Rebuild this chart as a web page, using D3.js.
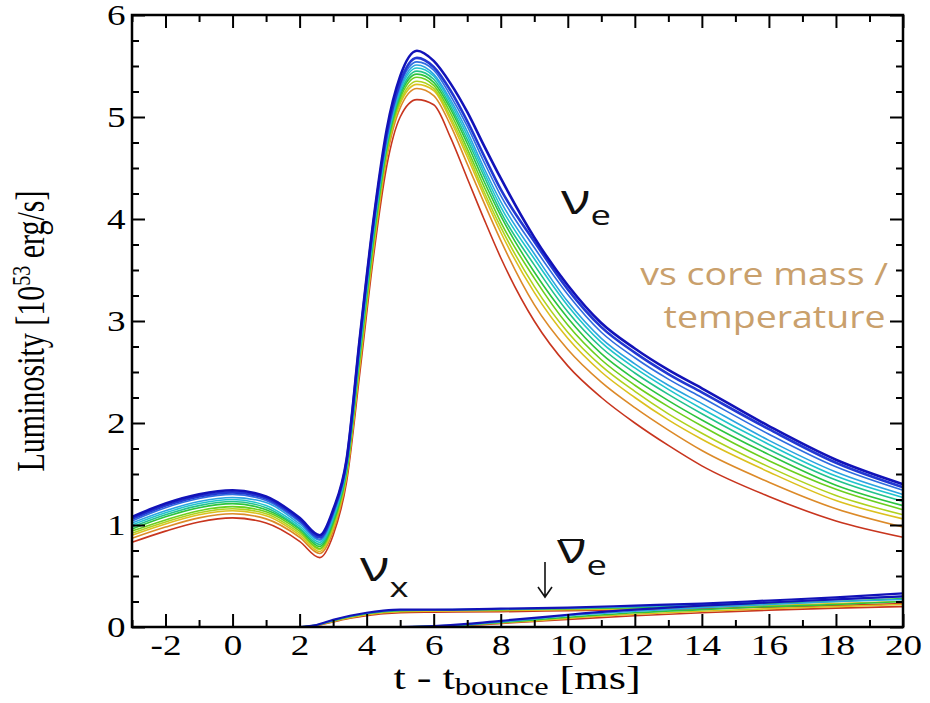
<!DOCTYPE html>
<meta charset="utf-8" />
<style>
  body { margin: 0; background: #fff; }
  svg { display: block; }
  .axis text { font-family: "Liberation Serif", "Times New Roman", serif; font-size: 29px; fill: #000; }
  .axis line { stroke: #000; stroke-width: 2; }
  .axis .domain { display: none; }
</style>
<svg width="930" height="703"></svg>
<script src="https://d3js.org/d3.v7.min.js"></script>
<script>
  var svg = d3.select("svg");
  var width = +svg.attr("width");
  var height = +svg.attr("height");
  var margin = { top: 15, right: 27, bottom: 76, left: 132 };
  var stretch = 1.28; // the original figure is drawn wider than tall

  // time grid of the nu_e curves [ms]
  var tGrid = [-3, -2, -1, 0, 1, 2, 2.6, 3.0, 3.4, 3.8, 4.2, 4.6, 5.0, 5.5, 6.0, 6.5, 7, 7.5, 8, 9, 10, 11, 12, 13, 14, 16, 18, 20];

  // nu_e luminosity, one array per model (blue = top ... red = bottom)
  var nue01 = [1.08, 1.21, 1.30, 1.34, 1.28, 1.07, 0.90, 1.15, 1.64, 2.85, 3.98, 4.88, 5.40, 5.65, 5.55, 5.33, 5.05, 4.72, 4.40, 3.82, 3.35, 2.98, 2.73, 2.52, 2.34, 1.97, 1.64, 1.40];
  var nue02 = [1.06, 1.19, 1.28, 1.32, 1.26, 1.05, 0.88, 1.13, 1.62, 2.82, 3.95, 4.83, 5.34, 5.58, 5.49, 5.26, 4.96, 4.62, 4.29, 3.78, 3.31, 2.94, 2.69, 2.48, 2.30, 1.94, 1.61, 1.37];
  var nue03 = [1.04, 1.17, 1.26, 1.30, 1.24, 1.03, 0.86, 1.11, 1.61, 2.79, 3.92, 4.80, 5.31, 5.54, 5.46, 5.21, 4.91, 4.56, 4.23, 3.72, 3.26, 2.89, 2.64, 2.43, 2.25, 1.89, 1.57, 1.34];
  var nue04 = [1.02, 1.14, 1.23, 1.27, 1.22, 1.01, 0.85, 1.09, 1.59, 2.76, 3.89, 4.77, 5.28, 5.51, 5.42, 5.17, 4.86, 4.50, 4.17, 3.66, 3.19, 2.83, 2.58, 2.37, 2.19, 1.83, 1.52, 1.30];
  var nue05 = [1.00, 1.12, 1.21, 1.25, 1.19, 0.99, 0.83, 1.07, 1.57, 2.73, 3.86, 4.75, 5.26, 5.48, 5.40, 5.14, 4.82, 4.46, 4.12, 3.61, 3.15, 2.79, 2.54, 2.33, 2.14, 1.79, 1.48, 1.27];
  var nue06 = [0.98, 1.10, 1.19, 1.23, 1.17, 0.97, 0.81, 1.05, 1.55, 2.70, 3.83, 4.73, 5.23, 5.45, 5.37, 5.11, 4.78, 4.42, 4.07, 3.55, 3.09, 2.74, 2.49, 2.28, 2.09, 1.74, 1.44, 1.23];
  var nue07 = [0.96, 1.08, 1.17, 1.21, 1.15, 0.96, 0.79, 1.03, 1.53, 2.68, 3.80, 4.71, 5.21, 5.42, 5.34, 5.08, 4.74, 4.37, 4.03, 3.48, 3.03, 2.68, 2.43, 2.22, 2.03, 1.69, 1.39, 1.19];
  var nue08 = [0.94, 1.05, 1.14, 1.18, 1.13, 0.94, 0.77, 1.01, 1.51, 2.65, 3.77, 4.68, 5.18, 5.39, 5.31, 5.04, 4.69, 4.32, 3.97, 3.42, 2.96, 2.62, 2.37, 2.16, 1.97, 1.63, 1.35, 1.15];
  var nue09 = [0.92, 1.03, 1.12, 1.16, 1.11, 0.92, 0.76, 0.99, 1.50, 2.62, 3.74, 4.66, 5.15, 5.35, 5.28, 5.00, 4.65, 4.27, 3.92, 3.34, 2.89, 2.56, 2.31, 2.09, 1.90, 1.57, 1.29, 1.10];
  var nue10 = [0.90, 1.01, 1.10, 1.14, 1.09, 0.90, 0.74, 0.97, 1.48, 2.59, 3.71, 4.64, 5.13, 5.32, 5.26, 4.97, 4.61, 4.23, 3.87, 3.28, 2.83, 2.50, 2.25, 2.03, 1.84, 1.52, 1.24, 1.06];
  var nue11 = [0.87, 0.98, 1.07, 1.11, 1.06, 0.88, 0.72, 0.94, 1.46, 2.56, 3.68, 4.60, 5.09, 5.28, 5.21, 4.92, 4.54, 4.16, 3.79, 3.16, 2.72, 2.40, 2.15, 1.93, 1.73, 1.42, 1.16, 0.98];
  var nue12 = [0.83, 0.94, 1.03, 1.07, 1.02, 0.84, 0.68, 0.90, 1.42, 2.50, 3.62, 4.52, 5.00, 5.17, 5.12, 4.80, 4.40, 4.00, 3.62, 3.00, 2.56, 2.25, 2.00, 1.78, 1.58, 1.28, 1.04, 0.88];
  var nueSeries = [nue01, nue02, nue03, nue04, nue05, nue06, nue07, nue08, nue09, nue10, nue11, nue12];

  var modelColors = ["#1212b8", "#2238d2", "#2f6ee0", "#2aa4e0", "#1fc4cc", "#22c28c", "#2cc43e", "#6ccf1e", "#b0d21e", "#dcc01e", "#dc8a28", "#c8351e"];

  // nu_x and anti nu_e, five representative models
  var tNux = [2, 2.5, 3, 3.5, 4, 4.5, 5, 6, 8, 10, 12, 14, 16, 18, 20];
  var nux1 = [0, 0.02, 0.07, 0.11, 0.14, 0.16, 0.17, 0.17, 0.18, 0.19, 0.21, 0.23, 0.26, 0.29, 0.33];
  var nux2 = [0, 0.02, 0.065, 0.105, 0.135, 0.155, 0.165, 0.168, 0.175, 0.185, 0.20, 0.22, 0.245, 0.27, 0.30];
  var nux3 = [0, 0.02, 0.06, 0.10, 0.13, 0.15, 0.16, 0.165, 0.17, 0.18, 0.19, 0.21, 0.23, 0.25, 0.28];
  var nux4 = [0, 0.015, 0.055, 0.09, 0.12, 0.14, 0.15, 0.155, 0.16, 0.17, 0.18, 0.195, 0.21, 0.23, 0.25];
  var nux5 = [0, 0.015, 0.05, 0.085, 0.11, 0.13, 0.14, 0.145, 0.15, 0.16, 0.17, 0.18, 0.195, 0.21, 0.23];
  var tAnue = [5, 6, 7, 8, 9, 10, 12, 14, 16, 18, 20];
  var anue1 = [0, 0.01, 0.03, 0.06, 0.09, 0.12, 0.17, 0.21, 0.24, 0.27, 0.30];
  var anue2 = [0, 0.01, 0.025, 0.05, 0.08, 0.11, 0.155, 0.19, 0.22, 0.25, 0.27];
  var anue3 = [0, 0.008, 0.02, 0.045, 0.07, 0.095, 0.14, 0.17, 0.20, 0.22, 0.25];
  var anue4 = [0, 0.006, 0.018, 0.04, 0.06, 0.085, 0.125, 0.155, 0.18, 0.20, 0.22];
  var anue5 = [0, 0.005, 0.015, 0.035, 0.055, 0.075, 0.11, 0.14, 0.165, 0.185, 0.20];
  var smallColors = ["#1212b8", "#2aa4e0", "#2cc43e", "#dcc01e", "#c8351e"];

  var xTicks = [-2, 0, 2, 4, 6, 8, 10, 12, 14, 16, 18, 20];
  var yTicks = [0, 1, 2, 3, 4, 5, 6];

  var x = d3.scaleLinear().domain([-3, 20]).range([margin.left, width - margin.right]);
  var y = d3.scaleLinear().domain([0, 6]).range([height - margin.bottom, margin.top]);

  var xMinor = d3.range(-3, 20.5, 1).filter(function(d) { return xTicks.indexOf(d) < 0; });
  var yMinor = d3.range(0, 6.01, 0.25).filter(function(d) { return d % 1 !== 0; });
  var plainNum = function(d) { return String(d); }; // keep the ascii hyphen for "-2"

  // curves
  var line = d3.line()
    .x(function(d) { return x(d[0]); })
    .y(function(d) { return y(d[1]); })
    .curve(d3.curveMonotoneX);

  var plot = svg.append("g");

  function drawSet(times, series, colors, widthFn) {
    for (var i = series.length - 1; i >= 0; i--) {
      plot.append("path")
        .datum(d3.zip(times, series[i]))
        .attr("d", line)
        .attr("fill", "none")
        .attr("stroke", colors[i])
        .attr("stroke-width", widthFn(i))
        .attr("stroke-linejoin", "round");
    }
  }
  drawSet(tNux, [nux1, nux2, nux3, nux4, nux5], smallColors, function(i) { return i === 0 ? 2.2 : 1.6; });
  drawSet(tAnue, [anue1, anue2, anue3, anue4, anue5], smallColors, function(i) { return i === 0 ? 2.2 : 1.6; });
  drawSet(tGrid, nueSeries, modelColors, function(i) { return i < 2 ? 2.6 : 1.6; });

  // axes, ticks inward on all four sides
  var gx = svg.append("g").attr("class", "axis")
    .attr("transform", "translate(0," + y(0) + ")")
    .call(d3.axisBottom(x).tickValues(xTicks).tickSize(-13).tickPadding(7).tickFormat(plainNum));
  gx.selectAll("text").attr("transform", "scale(" + stretch + ",1)");
  svg.append("g").attr("class", "axis")
    .attr("transform", "translate(0," + y(0) + ")")
    .call(d3.axisBottom(x).tickValues(xMinor).tickSize(-7).tickFormat(""));
  svg.append("g").attr("class", "axis")
    .attr("transform", "translate(0," + y(6) + ")")
    .call(d3.axisTop(x).tickValues(xTicks).tickSize(-13).tickFormat(""));
  svg.append("g").attr("class", "axis")
    .attr("transform", "translate(0," + y(6) + ")")
    .call(d3.axisTop(x).tickValues(xMinor).tickSize(-7).tickFormat(""));

  var gy = svg.append("g").attr("class", "axis")
    .attr("transform", "translate(" + x(-3) + ",0)")
    .call(d3.axisLeft(y).tickValues(yTicks).tickSize(-13).tickPadding(5).tickFormat(plainNum));
  gy.selectAll("text").attr("transform", "scale(" + stretch + ",1)");
  svg.append("g").attr("class", "axis")
    .attr("transform", "translate(" + x(-3) + ",0)")
    .call(d3.axisLeft(y).tickValues(yMinor).tickSize(-7).tickFormat(""));
  svg.append("g").attr("class", "axis")
    .attr("transform", "translate(" + x(20) + ",0)")
    .call(d3.axisRight(y).tickValues(yTicks).tickSize(-13).tickFormat(""));
  svg.append("g").attr("class", "axis")
    .attr("transform", "translate(" + x(20) + ",0)")
    .call(d3.axisRight(y).tickValues(yMinor).tickSize(-7).tickFormat(""));

  svg.append("rect")
    .attr("x", x(-3)).attr("y", y(6))
    .attr("width", x(20) - x(-3)).attr("height", y(0) - y(6))
    .attr("fill", "none").attr("stroke", "#000").attr("stroke-width", 2.5);

  // axis titles
  var serif = "'Liberation Serif', 'Times New Roman', serif";
  var xt = svg.append("text")
    .attr("transform", "translate(517,689) scale(1.3,1)")
    .attr("text-anchor", "middle")
    .style("font-family", serif).style("font-size", "34px");
  xt.append("tspan").text("t - t");
  xt.append("tspan").attr("dy", 6).style("font-size", "25px").text("bounce");
  xt.append("tspan").attr("dy", -6).text(" [ms]");

  var yt = svg.append("text")
    .attr("transform", "translate(44,331) scale(1.3,1) rotate(-90)")
    .attr("text-anchor", "middle")
    .style("font-family", serif).style("font-size", "30px");
  yt.append("tspan").text("Luminosity [10");
  yt.append("tspan").attr("dy", -11).style("font-size", "20px").text("53");
  yt.append("tspan").attr("dy", 11).text(" erg/s]");

  // labels
  var sans = "'Open Sans', 'Noto Sans', sans-serif";
  function greek(px, py, sub, subDy) {
    var t = svg.append("text")
      .attr("transform", "translate(" + px + "," + py + ") scale(1.3,1)")
      .style("font-family", sans).style("font-size", "42px").attr("fill", "#111");
    t.append("tspan").text("\u03bd");
    t.append("tspan").attr("dx", 0).attr("dy", subDy).style("font-size", "28px").text(sub);
  }
  greek(561, 214, "e", 11);
  greek(360, 581, "x", 16);
  greek(557, 563, "e", 12);
  svg.append("line").attr("x1", 560).attr("x2", 583).attr("y1", 540).attr("y2", 540)
    .attr("stroke", "#111").attr("stroke-width", 2);
  svg.append("path")
    .attr("d", "M545,562 L545,596 M538,587 L545,597 L552,587")
    .attr("fill", "none").attr("stroke", "#111").attr("stroke-width", 1.6);

  var note = svg.append("text")
    .attr("transform", "translate(888,0) scale(1.21,1)")
    .attr("text-anchor", "end")
    .style("font-family", sans).style("font-size", "31px").attr("fill", "#c9a06c");
  note.append("tspan").attr("x", 0).attr("y", 285).text("vs core mass /");
  note.append("tspan").attr("x", -2).attr("y", 328).text("temperature");
</script>
